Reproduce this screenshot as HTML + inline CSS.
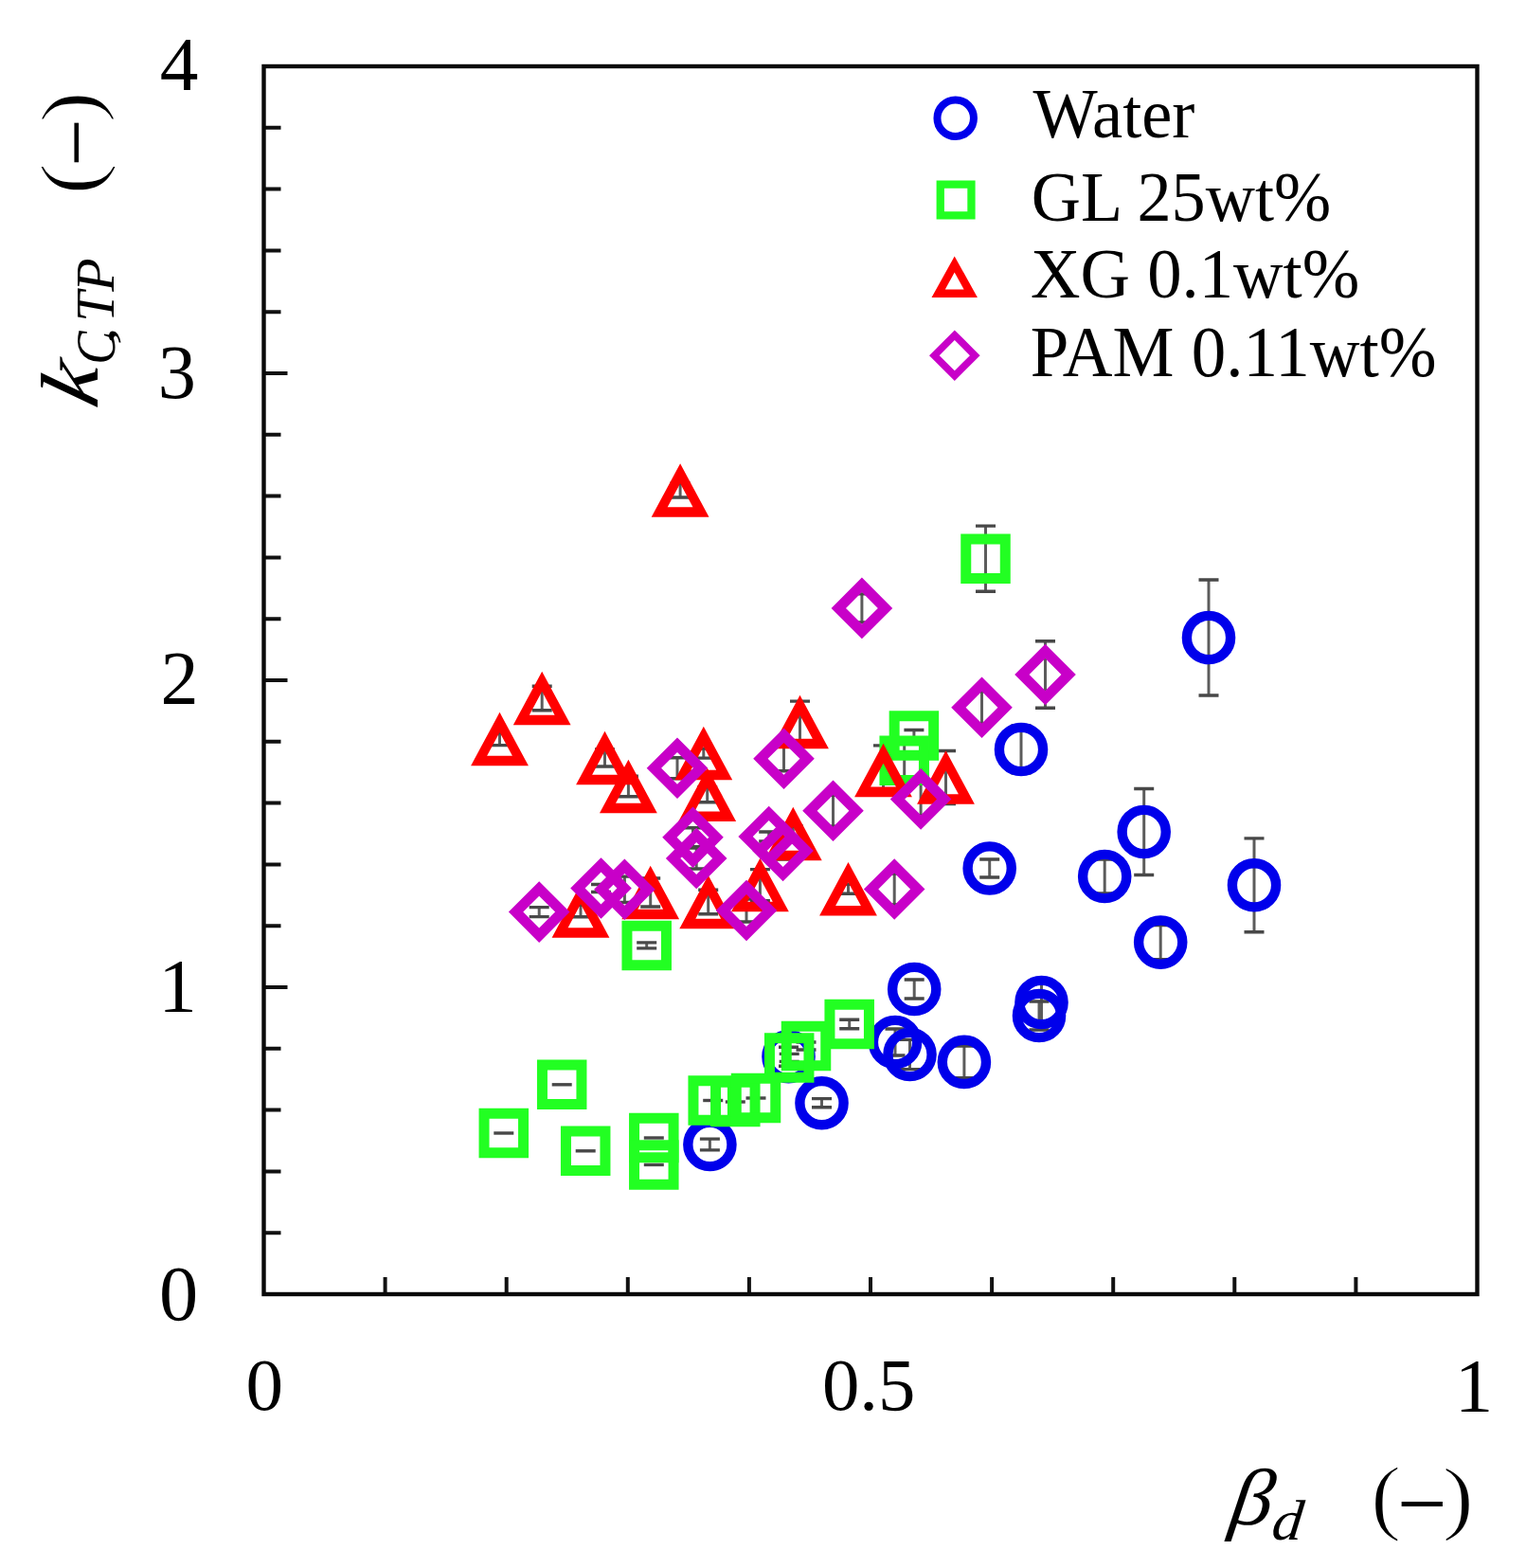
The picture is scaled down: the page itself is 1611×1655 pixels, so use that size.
<!DOCTYPE html>
<html><head><meta charset="utf-8"><style>
html,body{margin:0;padding:0;background:#fff;}
svg{display:block;}
#wrap{width:1611px;height:1655px;overflow:hidden;}
.t{font-family:"Liberation Serif","Times New Roman",serif;fill:#000;}
.bar{stroke:#5c5c5c;stroke-width:3;fill:none;}
.cap{stroke:#484848;stroke-width:3.4;fill:none;}
.thin{stroke:#fff;stroke-width:1.6;paint-order:fill;}
</style></head><body>
<div id="wrap">
<svg width="1611" height="1655" viewBox="0 0 1611 1655">
<rect width="1611" height="1655" fill="#fff"/>
<g id="data">
<path d="M1276 612V734" class="bar"/><path d="M1265.5 612H1286.5M1265.5 734H1286.5" class="cap"/>
<path d="M1078 766V816" class="bar"/><path d="M1067.5 766H1088.5M1067.5 816H1088.5" class="cap"/>
<path d="M1044.7 907V926" class="bar"/><path d="M1034.2 907H1055.2M1034.2 926H1055.2" class="cap"/>
<path d="M1166.2 907V943" class="bar"/><path d="M1155.7 907H1176.7M1155.7 943H1176.7" class="cap"/>
<path d="M1207.7 832.5V923.5" class="bar"/><path d="M1197.2 832.5H1218.2M1197.2 923.5H1218.2" class="cap"/>
<path d="M1324 884.9V983.7" class="bar"/><path d="M1313.5 884.9H1334.5M1313.5 983.7H1334.5" class="cap"/>
<path d="M1225.2 976.6V1012.6" class="bar"/><path d="M1214.7 976.6H1235.7M1214.7 1012.6H1235.7" class="cap"/>
<path d="M965.2 1034V1054" class="bar"/><path d="M954.7 1034H975.7M954.7 1054H975.7" class="cap"/>
<path d="M1099.5 1038V1078" class="bar"/><path d="M1089 1038H1110M1089 1078H1110" class="cap"/>
<path d="M1097 1057V1087" class="bar"/><path d="M1086.5 1057H1107.5M1086.5 1087H1107.5" class="cap"/>
<path d="M945 1086V1114" class="bar"/><path d="M934.5 1086H955.5M934.5 1114H955.5" class="cap"/>
<path d="M960.5 1097.4V1128.6" class="bar"/><path d="M950 1097.4H971M950 1128.6H971" class="cap"/>
<path d="M1017.9 1104.1V1137.7" class="bar"/><path d="M1007.4 1104.1H1028.4M1007.4 1137.7H1028.4" class="cap"/>
<path d="M867.5 1159.6V1168.8" class="bar"/><path d="M857 1159.6H878M857 1168.8H878" class="cap"/>
<path d="M749.4 1202.1V1213.9" class="bar"/><path d="M738.9 1202.1H759.9M738.9 1213.9H759.9" class="cap"/>
<path d="M832.5 1105.2V1125.2" class="bar"/><path d="M822 1105.2H843M822 1125.2H843" class="cap"/>
<path d="M1040.5 555.1V624.3" class="bar"/><path d="M1030 555.1H1051M1030 624.3H1051" class="cap"/>
<path d="M964.9 770.5V782.5" class="bar"/><path d="M954.4 770.5H975.4M954.4 782.5H975.4" class="cap"/>
<path d="M954.7 784.7V820.7" class="bar"/><path d="M944.2 784.7H965.2M944.2 820.7H965.2" class="cap"/>
<path d="M682.7 994.9V1000.9" class="bar"/><path d="M672.2 994.9H693.2M672.2 1000.9H693.2" class="cap"/>
<path d="M896.7 1076.2V1085.8" class="bar"/><path d="M886.2 1076.2H907.2M886.2 1085.8H907.2" class="cap"/>
<path d="M851 1100V1108" class="bar"/><path d="M840.5 1100H861.5M840.5 1108H861.5" class="cap"/>
<path d="M833.2 1112.4V1120.4" class="bar"/><path d="M822.7 1112.4H843.7M822.7 1120.4H843.7" class="cap"/>
<path d="M582.7 1144.8H603.7" class="cap"/>
<path d="M521.3 1196H542.3" class="cap"/>
<path d="M607.7 1214.8H628.7" class="cap"/>
<path d="M679.8 1201H700.8" class="cap"/>
<path d="M679.8 1229.4H700.8" class="cap"/>
<path d="M742.2 1161.5H763.2" class="cap"/>
<path d="M765.8 1163H786.8" class="cap"/>
<path d="M787.5 1159H808.5" class="cap"/>
<path d="M718.1 510V525" class="bar"/><path d="M707.6 510H728.6M707.6 525H728.6" class="cap"/>
<path d="M572.2 724.3V749.7" class="bar"/><path d="M561.7 724.3H582.7M561.7 749.7H582.7" class="cap"/>
<path d="M527.5 773.6V786.6" class="bar"/><path d="M517 773.6H538M517 786.6H538" class="cap"/>
<path d="M638.5 791V809" class="bar"/><path d="M628 791H649M628 809H649" class="cap"/>
<path d="M663.4 819.2V840.8" class="bar"/><path d="M652.9 819.2H673.9M652.9 840.8H673.9" class="cap"/>
<path d="M742.8 790.1V800.1" class="bar"/><path d="M732.3 790.1H753.3M732.3 800.1H753.3" class="cap"/>
<path d="M746.7 830.7V846.7" class="bar"/><path d="M736.2 830.7H757.2M736.2 846.7H757.2" class="cap"/>
<path d="M844.5 740.1V784.1" class="bar"/><path d="M834 740.1H855M834 784.1H855" class="cap"/>
<path d="M932.5 786.9V838.9" class="bar"/><path d="M922 786.9H943M922 838.9H943" class="cap"/>
<path d="M998.5 792.5V848.5" class="bar"/><path d="M988 792.5H1009M988 848.5H1009" class="cap"/>
<path d="M837.3 872V888" class="bar"/><path d="M826.8 872H847.8M826.8 888H847.8" class="cap"/>
<path d="M895.5 933.3V943.3" class="bar"/><path d="M885 933.3H906M885 943.3H906" class="cap"/>
<path d="M802.4 917.6V950.6" class="bar"/><path d="M791.9 917.6H812.9M791.9 950.6H812.9" class="cap"/>
<path d="M747.7 939.2V964.8" class="bar"/><path d="M737.2 939.2H758.2M737.2 964.8H758.2" class="cap"/>
<path d="M686.7 927V957" class="bar"/><path d="M676.2 927H697.2M676.2 957H697.2" class="cap"/>
<path d="M613 955.2V967.8" class="bar"/><path d="M602.5 955.2H623.5M602.5 967.8H623.5" class="cap"/>
<path d="M909.9 626.9V656.9" class="bar"/><path d="M899.4 626.9H920.4M899.4 656.9H920.4" class="cap"/>
<path d="M1103.5 676.8V747.2" class="bar"/><path d="M1093 676.8H1114M1093 747.2H1114" class="cap"/>
<path d="M1036.5 729.5V763.9" class="bar"/><path d="M1026 729.5H1047M1026 763.9H1047" class="cap"/>
<path d="M827.5 787.8V813.8" class="bar"/><path d="M817 787.8H838M817 813.8H838" class="cap"/>
<path d="M715 799.8V821.8" class="bar"/><path d="M704.5 799.8H725.5M704.5 821.8H725.5" class="cap"/>
<path d="M972.1 826V860.8" class="bar"/><path d="M961.6 826H982.6M961.6 860.8H982.6" class="cap"/>
<path d="M879.5 839.3V872.3" class="bar"/><path d="M869 839.3H890M869 872.3H890" class="cap"/>
<path d="M731.5 873.8V893.8" class="bar"/><path d="M721 873.8H742M721 893.8H742" class="cap"/>
<path d="M811.7 878V888" class="bar"/><path d="M801.2 878H822.2M801.2 888H822.2" class="cap"/>
<path d="M735.2 895V917" class="bar"/><path d="M724.7 895H745.7M724.7 917H745.7" class="cap"/>
<path d="M826.6 889V907" class="bar"/><path d="M816.1 889H837.1M816.1 907H837.1" class="cap"/>
<path d="M944.2 922.1V954.9" class="bar"/><path d="M933.7 922.1H954.7M933.7 954.9H954.7" class="cap"/>
<path d="M634.5 933.5V941.5" class="bar"/><path d="M624 933.5H645M624 941.5H645" class="cap"/>
<path d="M659.4 925.1V952.5" class="bar"/><path d="M648.9 925.1H669.9M648.9 952.5H669.9" class="cap"/>
<path d="M569.2 957.6V967.6" class="bar"/><path d="M558.7 957.6H579.7M558.7 967.6H579.7" class="cap"/>
<path d="M788 949V973" class="bar"/><path d="M777.5 949H798.5M777.5 973H798.5" class="cap"/>
<circle cx="1276" cy="673" r="23.1" fill="none" stroke="#0000eb" stroke-width="10.4"/>
<circle cx="1078" cy="791" r="23.1" fill="none" stroke="#0000eb" stroke-width="10.4"/>
<circle cx="1044.7" cy="916.5" r="23.1" fill="none" stroke="#0000eb" stroke-width="10.4"/>
<circle cx="1166.2" cy="925" r="23.1" fill="none" stroke="#0000eb" stroke-width="10.4"/>
<circle cx="1207.7" cy="878" r="23.1" fill="none" stroke="#0000eb" stroke-width="10.4"/>
<circle cx="1324" cy="934.3" r="23.1" fill="none" stroke="#0000eb" stroke-width="10.4"/>
<circle cx="1225.2" cy="994.6" r="23.1" fill="none" stroke="#0000eb" stroke-width="10.4"/>
<circle cx="965.2" cy="1044" r="23.1" fill="none" stroke="#0000eb" stroke-width="10.4"/>
<circle cx="1099.5" cy="1058" r="23.1" fill="none" stroke="#0000eb" stroke-width="10.4"/>
<circle cx="1097" cy="1072" r="23.1" fill="none" stroke="#0000eb" stroke-width="10.4"/>
<circle cx="945" cy="1100" r="23.1" fill="none" stroke="#0000eb" stroke-width="10.4"/>
<circle cx="960.5" cy="1113" r="23.1" fill="none" stroke="#0000eb" stroke-width="10.4"/>
<circle cx="1017.9" cy="1120.9" r="23.1" fill="none" stroke="#0000eb" stroke-width="10.4"/>
<circle cx="867.5" cy="1164.2" r="23.1" fill="none" stroke="#0000eb" stroke-width="10.4"/>
<circle cx="749.4" cy="1208" r="23.1" fill="none" stroke="#0000eb" stroke-width="10.4"/>
<circle cx="832.5" cy="1115.2" r="23.1" fill="none" stroke="#0000eb" stroke-width="10.4"/>
<path d="M1014.25 563.45H1066.75V615.95H1014.25ZM1025.25 574.45H1055.75V604.95H1025.25Z" fill="#22ff22" fill-rule="evenodd"/>
<path d="M938.65 750.25H991.15V802.75H938.65ZM949.65 761.25H980.15V791.75H949.65Z" fill="#22ff22" fill-rule="evenodd"/>
<path d="M928.45 776.45H980.95V828.95H928.45ZM939.45 787.45H969.95V817.95H939.45Z" fill="#22ff22" fill-rule="evenodd"/>
<path d="M656.45 971.65H708.95V1024.15H656.45ZM667.45 982.65H697.95V1013.15H667.45Z" fill="#22ff22" fill-rule="evenodd"/>
<path d="M870.45 1054.75H922.95V1107.25H870.45ZM881.45 1065.75H911.95V1096.25H881.45Z" fill="#22ff22" fill-rule="evenodd"/>
<path d="M824.75 1077.75H877.25V1130.25H824.75ZM835.75 1088.75H866.25V1119.25H835.75Z" fill="#22ff22" fill-rule="evenodd"/>
<path d="M806.95 1090.15H859.45V1142.65H806.95ZM817.95 1101.15H848.45V1131.65H817.95Z" fill="#22ff22" fill-rule="evenodd"/>
<path d="M566.95 1118.55H619.45V1171.05H566.95ZM577.95 1129.55H608.45V1160.05H577.95Z" fill="#22ff22" fill-rule="evenodd"/>
<path d="M505.55 1169.75H558.05V1222.25H505.55ZM516.55 1180.75H547.05V1211.25H516.55Z" fill="#22ff22" fill-rule="evenodd"/>
<path d="M591.95 1188.55H644.45V1241.05H591.95ZM602.95 1199.55H633.45V1230.05H602.95Z" fill="#22ff22" fill-rule="evenodd"/>
<path d="M664.05 1174.75H716.55V1227.25H664.05ZM675.05 1185.75H705.55V1216.25H675.05Z" fill="#22ff22" fill-rule="evenodd"/>
<path d="M664.05 1203.15H716.55V1255.65H664.05ZM675.05 1214.15H705.55V1244.65H675.05Z" fill="#22ff22" fill-rule="evenodd"/>
<path d="M726.45 1135.25H778.95V1187.75H726.45ZM737.45 1146.25H767.95V1176.75H737.45Z" fill="#22ff22" fill-rule="evenodd"/>
<path d="M750.05 1136.75H802.55V1189.25H750.05ZM761.05 1147.75H791.55V1178.25H761.05Z" fill="#22ff22" fill-rule="evenodd"/>
<path d="M771.75 1132.75H824.25V1185.25H771.75ZM782.75 1143.75H813.25V1174.25H782.75Z" fill="#22ff22" fill-rule="evenodd"/>
<path d="M718.1 489.25L748.5 545.75L687.7 545.75ZM718.1 510.34L731.48 535.2L704.72 535.2Z" fill="#ff0000" fill-rule="evenodd"/>
<path d="M572.2 708.75L602.6 765.25L541.8 765.25ZM572.2 729.84L585.58 754.7L558.82 754.7Z" fill="#ff0000" fill-rule="evenodd"/>
<path d="M527.5 751.85L557.9 808.35L497.1 808.35ZM527.5 772.94L540.88 797.8L514.12 797.8Z" fill="#ff0000" fill-rule="evenodd"/>
<path d="M638.5 771.75L668.9 828.25L608.1 828.25ZM638.5 792.84L651.88 817.7L625.12 817.7Z" fill="#ff0000" fill-rule="evenodd"/>
<path d="M663.4 801.75L693.8 858.25L633 858.25ZM663.4 822.84L676.78 847.7L650.02 847.7Z" fill="#ff0000" fill-rule="evenodd"/>
<path d="M742.8 766.85L773.2 823.35L712.4 823.35ZM742.8 787.94L756.18 812.8L729.42 812.8Z" fill="#ff0000" fill-rule="evenodd"/>
<path d="M746.7 810.45L777.1 866.95L716.3 866.95ZM746.7 831.54L760.08 856.4L733.32 856.4Z" fill="#ff0000" fill-rule="evenodd"/>
<path d="M844.5 733.85L874.9 790.35L814.1 790.35ZM844.5 754.94L857.88 779.8L831.12 779.8Z" fill="#ff0000" fill-rule="evenodd"/>
<path d="M932.5 784.65L962.9 841.15L902.1 841.15ZM932.5 805.74L945.88 830.6L919.12 830.6Z" fill="#ff0000" fill-rule="evenodd"/>
<path d="M998.5 792.25L1028.9 848.75L968.1 848.75ZM998.5 813.34L1011.88 838.2L985.12 838.2Z" fill="#ff0000" fill-rule="evenodd"/>
<path d="M837.3 851.75L867.7 908.25L806.9 908.25ZM837.3 872.84L850.68 897.7L823.92 897.7Z" fill="#ff0000" fill-rule="evenodd"/>
<path d="M895.5 910.05L925.9 966.55L865.1 966.55ZM895.5 931.14L908.88 956L882.12 956Z" fill="#ff0000" fill-rule="evenodd"/>
<path d="M802.4 905.85L832.8 962.35L772 962.35ZM802.4 926.94L815.78 951.8L789.02 951.8Z" fill="#ff0000" fill-rule="evenodd"/>
<path d="M747.7 923.75L778.1 980.25L717.3 980.25ZM747.7 944.84L761.08 969.7L734.32 969.7Z" fill="#ff0000" fill-rule="evenodd"/>
<path d="M686.7 913.75L717.1 970.25L656.3 970.25ZM686.7 934.84L700.08 959.7L673.32 959.7Z" fill="#ff0000" fill-rule="evenodd"/>
<path d="M613 933.25L643.4 989.75L582.6 989.75ZM613 954.34L626.38 979.2L599.62 979.2Z" fill="#ff0000" fill-rule="evenodd"/>
<path d="M909.9 609.6L942.2 641.9L909.9 674.2L877.6 641.9ZM909.9 625L926.8 641.9L909.9 658.8L893 641.9Z" fill="#c800c8" fill-rule="evenodd"/>
<path d="M1103.5 679.7L1135.8 712L1103.5 744.3L1071.2 712ZM1103.5 695.1L1120.4 712L1103.5 728.9L1086.6 712Z" fill="#c800c8" fill-rule="evenodd"/>
<path d="M1036.5 714.4L1068.8 746.7L1036.5 779L1004.2 746.7ZM1036.5 729.8L1053.4 746.7L1036.5 763.6L1019.6 746.7Z" fill="#c800c8" fill-rule="evenodd"/>
<path d="M827.5 768.5L859.8 800.8L827.5 833.1L795.2 800.8ZM827.5 783.9L844.4 800.8L827.5 817.7L810.6 800.8Z" fill="#c800c8" fill-rule="evenodd"/>
<path d="M715 778.5L747.3 810.8L715 843.1L682.7 810.8ZM715 793.9L731.9 810.8L715 827.7L698.1 810.8Z" fill="#c800c8" fill-rule="evenodd"/>
<path d="M972.1 811.1L1004.4 843.4L972.1 875.7L939.8 843.4ZM972.1 826.5L989 843.4L972.1 860.3L955.2 843.4Z" fill="#c800c8" fill-rule="evenodd"/>
<path d="M879.5 823.5L911.8 855.8L879.5 888.1L847.2 855.8ZM879.5 838.9L896.4 855.8L879.5 872.7L862.6 855.8Z" fill="#c800c8" fill-rule="evenodd"/>
<path d="M731.5 851.5L763.8 883.8L731.5 916.1L699.2 883.8ZM731.5 866.9L748.4 883.8L731.5 900.7L714.6 883.8Z" fill="#c800c8" fill-rule="evenodd"/>
<path d="M811.7 850.7L844 883L811.7 915.3L779.4 883ZM811.7 866.1L828.6 883L811.7 899.9L794.8 883Z" fill="#c800c8" fill-rule="evenodd"/>
<path d="M735.2 873.7L767.5 906L735.2 938.3L702.9 906ZM735.2 889.1L752.1 906L735.2 922.9L718.3 906Z" fill="#c800c8" fill-rule="evenodd"/>
<path d="M826.6 865.7L858.9 898L826.6 930.3L794.3 898ZM826.6 881.1L843.5 898L826.6 914.9L809.7 898Z" fill="#c800c8" fill-rule="evenodd"/>
<path d="M944.2 906.2L976.5 938.5L944.2 970.8L911.9 938.5ZM944.2 921.6L961.1 938.5L944.2 955.4L927.3 938.5Z" fill="#c800c8" fill-rule="evenodd"/>
<path d="M634.5 905.2L666.8 937.5L634.5 969.8L602.2 937.5ZM634.5 920.6L651.4 937.5L634.5 954.4L617.6 937.5Z" fill="#c800c8" fill-rule="evenodd"/>
<path d="M659.4 906.5L691.7 938.8L659.4 971.1L627.1 938.8ZM659.4 921.9L676.3 938.8L659.4 955.7L642.5 938.8Z" fill="#c800c8" fill-rule="evenodd"/>
<path d="M569.2 930.3L601.5 962.6L569.2 994.9L536.9 962.6ZM569.2 945.7L586.1 962.6L569.2 979.5L552.3 962.6Z" fill="#c800c8" fill-rule="evenodd"/>
<path d="M788 928.7L820.3 961L788 993.3L755.7 961ZM788 944.1L804.9 961L788 977.9L771.1 961Z" fill="#c800c8" fill-rule="evenodd"/>
</g>
<path d="M406.6 1366V1348M534.7 1366V1348M662.8 1366V1348M790.9 1366V1348M919 1366V1348M1047.1 1366V1348M1175.2 1366V1348M1303.3 1366V1348M1431.4 1366V1348M278.5 1301.2H296.5M278.5 1236.4H296.5M278.5 1171.6H296.5M278.5 1106.8H296.5M278.5 1042H303.5M278.5 977.2H296.5M278.5 912.4H296.5M278.5 847.6H296.5M278.5 782.8H296.5M278.5 718H303.5M278.5 653.2H296.5M278.5 588.4H296.5M278.5 523.6H296.5M278.5 458.8H296.5M278.5 394H303.5M278.5 329.2H296.5M278.5 264.4H296.5M278.5 199.6H296.5M278.5 134.8H296.5" stroke="#111" stroke-width="4" fill="none"/>
<rect x="278.5" y="70.0" width="1281.0" height="1296.0" fill="none" stroke="#0a0a0a" stroke-width="4.4"/>
<g class="t">
<text transform="matrix(1.0170 0 0 1.0170 168.75 94.80)" font-size="80">4</text>
<text transform="matrix(1.0037 0 0 1.0037 166.67 419.60)" font-size="80">3</text>
<text transform="matrix(1.0019 0 0 1.0019 169.61 742.70)" font-size="80">2</text>
<text transform="matrix(1.0132 0 0 1.0132 167.37 1068.00)" font-size="80">1</text>
<text transform="matrix(1.0296 0 0 1.0296 168.06 1393.17)" font-size="80">0</text>
<text transform="matrix(0.9889 0 0 0.9889 259.57 1488.01)" font-size="80">0</text>
<text transform="matrix(0.9852 0 0 0.9852 867.94 1487.51)" font-size="80">0.5</text>
<text transform="matrix(1.0132 0 0 1.0132 1535.72 1489.60)" font-size="80">1</text>
<text transform="matrix(0.9644 0 0 1.0000 1090.60 145.20)" font-size="75">Water</text>
<text transform="matrix(0.9638 0 0 0.9840 1088.71 233.02)" font-size="75">GL 25wt%</text>
<text transform="matrix(0.9692 0 0 0.9980 1088.06 313.90)" font-size="75">XG 0.1wt%</text>
<text transform="matrix(0.9739 0 0 1.0040 1087.85 396.80)" font-size="75">PAM 0.11wt%</text>
<text transform="matrix(1.0577 0 0 1.0026 1296.53 1608.75) skewX(-8)" font-size="84" font-style="italic">β</text>
<text transform="matrix(1.0806 0 0 1.0000 1341.26 1625.00) skewX(-6)" font-size="60" font-style="italic">d</text>
<text class="thin" transform="matrix(1.1409 0 0 1.0427 1447.04 1609.07)" font-size="85">(</text>
<text transform="matrix(1.0950 0 0 1.1500 1475.12 1619.50)" font-size="85">−</text>
<text class="thin" transform="matrix(1.1864 0 0 1.0156 1522.44 1608.52)" font-size="85">)</text>
<g transform="rotate(-90)">
<text transform="matrix(1.2023 0 0 1.0276 -432.91 103.30) skewX(-13)" font-size="84" font-style="italic">k</text>
<text transform="matrix(0.9111 0 0 1.0342 -384.73 121.00)" font-size="58" font-style="italic">C</text>
<text transform="matrix(1.3667 0 0 0.8500 -364.23 120.10)" font-size="58" font-style="italic">,</text>
<text transform="matrix(0.9935 0 0 1.0000 -339.77 120.20)" font-size="58" font-style="italic">TP</text>
<text class="thin" transform="matrix(1.2000 0 0 1.0347 -205.70 103.71)" font-size="85">(</text>
<text transform="matrix(1.0525 0 0 1.1000 -175.81 112.20)" font-size="85">−</text>
<text class="thin" transform="matrix(1.1864 0 0 1.0078 -129.86 103.16)" font-size="85">)</text>
</g>
</g>
<g id="legend">
<circle cx="1008.7" cy="124.7" r="19.25" fill="none" stroke="#0000eb" stroke-width="8"/>
<path d="M988.6 190.5H1029.6V231.5H988.6ZM996.9 198.8H1021.3V223.2H996.9Z" fill="#22ff22" fill-rule="evenodd"/>
<path d="M1007.7 270.45L1031.9 313.95L983.5 313.95ZM1007.7 287.56L1017.62 305.39L997.78 305.39Z" fill="#ff0000" fill-rule="evenodd"/>
<path d="M1007.8 348.4L1034.6 375.2L1007.8 402L981 375.2ZM1007.8 359.1L1023.9 375.2L1007.8 391.3L991.7 375.2Z" fill="#c800c8" fill-rule="evenodd"/>
</g>
</svg>
</div>
</body></html>
